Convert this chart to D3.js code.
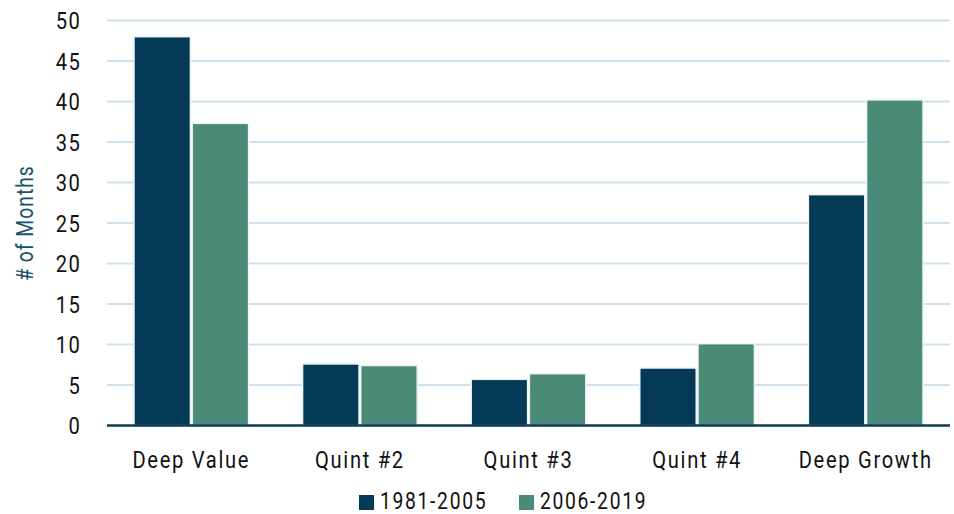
<!DOCTYPE html>
<html>
<head>
<meta charset="utf-8">
<script src="https://d3js.org/d3.v7.min.js"></script>
<style>
body { margin: 0; background: #fff; }
text { font-family: "Roboto", sans-serif; }
</style>
</head>
<body>
<script>
var categories = ["Deep Value", "Quint #2", "Quint #3", "Quint #4", "Deep Growth"];
var seriesNames = ["1981-2005", "2006-2019"];
var early = [48, 7.6, 5.7, 7.1, 28.5];
var late = [37.3, 7.4, 6.4, 10.1, 40.2];
var yTicks = [0, 5, 10, 15, 20, 25, 30, 35, 40, 45, 50];
var colors = ["#053a56", "#4a8a77"];

var width = 954, height = 514;
var margin = {left: 107, right: 4, top: 20.5, bottom: 88.5};
var squeeze = 0.84; // condensed look

var svg = d3.select("body").append("svg")
    .attr("width", width)
    .attr("height", height);

var x = d3.scaleBand()
    .domain(categories)
    .range([margin.left, width - margin.right])
    .paddingInner(0.32)
    .paddingOuter(0.16);

var xSub = d3.scaleBand()
    .domain(seriesNames)
    .range([0, x.bandwidth()])
    .paddingInner(0.03);

var y = d3.scaleLinear()
    .domain([0, 50])
    .range([height - margin.bottom, margin.top]);

function place(px, py) {
    return "translate(" + px + "," + py + ") scale(" + squeeze + ",1)";
}

// gridlines
svg.append("g")
    .selectAll("line")
    .data(yTicks.filter(function(d) { return d > 0; }))
    .enter()
    .append("line")
    .attr("x1", margin.left)
    .attr("x2", width - margin.right)
    .attr("y1", function(d) { return y(d); })
    .attr("y2", function(d) { return y(d); })
    .attr("stroke", "#cfe1ec")
    .attr("stroke-width", 2);

// y tick labels
svg.append("g")
    .selectAll("text")
    .data(yTicks)
    .enter()
    .append("text")
    .attr("transform", function(d) { return place(81, y(d)); })
    .attr("dy", "0.36em")
    .attr("text-anchor", "end")
    .attr("font-size", 24)
    .attr("letter-spacing", 1.5)
    .attr("fill", "#111")
    .text(function(d) { return d; });

var rows = categories.map(function(c, i) {
    return {cat: c, vals: [early[i], late[i]]};
});

var groups = svg.append("g")
    .selectAll("g")
    .data(rows)
    .enter()
    .append("g")
    .attr("transform", function(d) { return "translate(" + x(d.cat) + ",0)"; });

groups.selectAll("rect")
    .data(function(d) { return d.vals.map(function(v, i) { return {name: seriesNames[i], v: v, i: i}; }); })
    .enter()
    .append("rect")
    .attr("x", function(d) { return xSub(d.name); })
    .attr("y", function(d) { return y(d.v); })
    .attr("width", xSub.bandwidth())
    .attr("height", function(d) { return y(0) - y(d.v); })
    .attr("fill", function(d) { return colors[d.i]; })
    .attr("stroke", "#eef4f7")
    .attr("stroke-width", 1.5);

// baseline
svg.append("line")
    .attr("x1", margin.left)
    .attr("x2", width - margin.right)
    .attr("y1", y(0))
    .attr("y2", y(0))
    .attr("stroke", "#0b3b57")
    .attr("stroke-width", 2.5);

// category labels
svg.append("g")
    .selectAll("text")
    .data(categories)
    .enter()
    .append("text")
    .attr("transform", function(d) { return place(x(d) + x.bandwidth() / 2, 468); })
    .attr("text-anchor", "middle")
    .attr("font-size", 24)
    .attr("letter-spacing", 2)
    .attr("fill", "#111")
    .text(function(d) { return d; });

// y axis title
svg.append("text")
    .attr("transform", "translate(33," + ((y(0) + y(50)) / 2) + ") rotate(-90) scale(" + squeeze + ",1)")
    .attr("text-anchor", "middle")
    .attr("font-size", 23)
    .attr("letter-spacing", 1.2)
    .attr("fill", "#17506e")
    .text("# of Months");

// legend
var legendX = [359, 519];
var legend = svg.append("g")
    .selectAll("g")
    .data(seriesNames)
    .enter()
    .append("g")
    .attr("transform", function(d, i) { return "translate(" + legendX[i] + ",495)"; });

legend.append("rect")
    .attr("width", 15)
    .attr("height", 15)
    .attr("fill", function(d, i) { return colors[i]; });

legend.append("text")
    .attr("transform", place(21, 14))
    .attr("font-size", 23)
    .attr("letter-spacing", 2)
    .attr("fill", "#111")
    .text(function(d) { return d; });
</script>
</body>
</html>
